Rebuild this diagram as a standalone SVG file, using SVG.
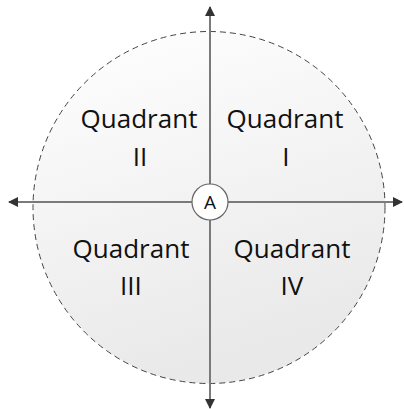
<svg xmlns="http://www.w3.org/2000/svg" width="404" height="409" viewBox="0 0 404 409">
  <defs>
    <linearGradient id="bg" x1="0" y1="0" x2="0.3" y2="1">
      <stop offset="0" stop-color="#ffffff"/>
      <stop offset="1" stop-color="#e9e9e9"/>
    </linearGradient>
    <marker id="arr" viewBox="0 0 10 10" refX="9" refY="5" markerWidth="5" markerHeight="5" orient="auto" markerUnits="strokeWidth">
      <path d="M0,0 L10,5 L0,10 Z" fill="#333"/>
    </marker>
    <style>
      .lbl { font-family: "Open Sans", "Liberation Sans", sans-serif; font-size: 26px; fill: #111; text-anchor: middle; }
      .axis { stroke: #7a7a7a; stroke-width: 2; fill: none; marker-end: url(#arr); }
    </style>
  </defs>
  <g id="region">
    <circle cx="209" cy="207.5" r="176" fill="url(#bg)" stroke="#444" stroke-width="1" stroke-dasharray="6,4"/>
  </g>
  <g id="connectors">
    <line class="axis" x1="210" y1="202" x2="402" y2="202"/>
    <line class="axis" x1="210" y1="202" x2="9" y2="202"/>
    <line class="axis" x1="210" y1="202" x2="210" y2="7"/>
    <line class="axis" x1="210" y1="202" x2="210" y2="408"/>
  </g>
  <g id="q1"><text class="lbl" x="285" y="128">Quadrant</text><text class="lbl" x="286" y="166">I</text></g>
  <g id="q2"><text class="lbl" x="139" y="128">Quadrant</text><text class="lbl" x="140" y="166">II</text></g>
  <g id="q3"><text class="lbl" x="131" y="258">Quadrant</text><text class="lbl" x="131" y="295">III</text></g>
  <g id="q4"><text class="lbl" x="292" y="258">Quadrant</text><text class="lbl" x="292" y="295">IV</text></g>
  <g id="origin">
    <circle cx="210" cy="202" r="18" fill="#fff" stroke="#666" stroke-width="1.2"/>
    <text x="210" y="208.5" font-family="Open Sans, Liberation Sans, sans-serif" font-size="19" fill="#111" text-anchor="middle">A</text>
  </g>
</svg>
